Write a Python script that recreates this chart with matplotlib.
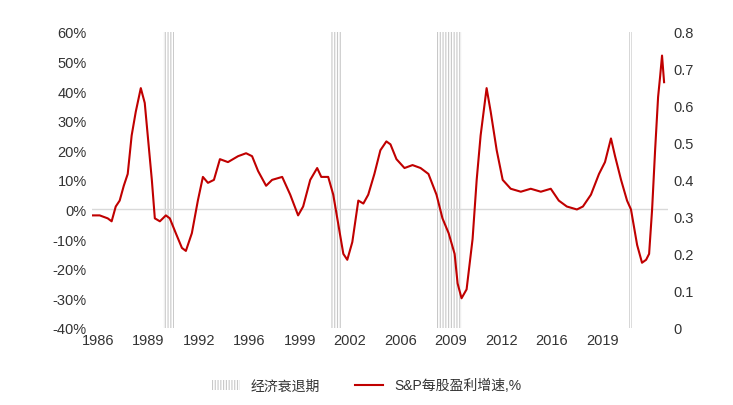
import matplotlib
matplotlib.use("Agg")
import matplotlib.pyplot as plt
from matplotlib.patches import Patch
from matplotlib.lines import Line2D

plt.rcParams['font.family'] = ['Liberation Sans', 'Noto Sans CJK SC', 'DejaVu Sans']
plt.rcParams['hatch.linewidth'] = 0.8

# years since Jan 1986
t = [0, 0.51, 1.02, 1.27, 1.53, 1.78, 2.04, 2.29, 2.54, 2.80, 3.12, 3.37, 3.56, 3.82, 4.01,
     4.33, 4.71, 4.96, 5.34, 5.73, 5.98, 6.36, 6.74, 7.06, 7.38, 7.76, 8.14, 8.65, 9.29, 9.80,
     10.18, 10.56, 11.07, 11.45, 12.09, 12.60, 13.10, 13.42, 13.87, 14.31, 14.57, 15.01, 15.33,
     15.65, 15.97, 16.22, 16.54, 16.92, 17.24, 17.55, 17.94, 18.32, 18.70, 18.96, 19.34, 19.85,
     20.36, 20.87, 21.37, 21.88, 22.26, 22.65, 23.03, 23.22, 23.47, 23.79, 24.17, 24.43, 24.68,
     25.06, 25.32, 25.70, 26.08, 26.59, 27.23, 27.86, 28.50, 29.13, 29.64, 30.15, 30.79, 31.17,
     31.68, 32.19, 32.57, 32.95, 33.21, 33.59, 33.97, 34.22, 34.61, 34.92, 35.18, 35.37, 35.56,
     35.75, 35.94, 36.07, 36.19, 36.32]
eps_growth = [-2, -2, -3, -4, 1, 3, 8, 12, 25, 33, 41, 36, 25, 10, -3,
              -4, -2, -3, -8, -13, -14, -8, 3, 11, 9, 10, 17, 16, 18, 19,
              18, 13, 8, 10, 11, 5, -2, 1, 10, 14, 11, 11, 5,
              -5, -15, -17, -11, 3, 2, 5, 12, 20, 23, 22, 17, 14,
              15, 14, 12, 5, -3, -8, -15, -25, -30, -27, -10, 10, 25,
              41, 33, 20, 10, 7, 6, 7, 6, 7, 3, 1, 0, 1,
              5, 12, 16, 24, 18, 10, 3, 0, -12, -18, -17, -15, 0,
              20, 38, 45, 52, 43]
recessions = [(4.5, 5.2), (15.2, 15.9), (21.9, 23.5), (34.1, 34.3)]
tick_labels = ["1986", "1989", "1992", "1996", "1999", "2002", "2006", "2009", "2012", "2016", "2019"]

fig = plt.figure(figsize=(7.33, 4.06), dpi=100)
ax = fig.add_axes([0.125, 0.19, 0.787, 0.729])
ax2 = ax.twinx()

for a, b in recessions:
    ax2.bar((a + b) / 2, 0.8, width=b - a, bottom=0, color="white",
            edgecolor="#c8c8c8", hatch="||||||", linewidth=0)
ax2.set_ylim(0, 0.8)
ax2.set_yticks([i / 10 for i in range(9)])
ax2.set_yticklabels(["0"] + [f"{i/10:.1f}" for i in range(1, 9)])

ax.set_zorder(ax2.get_zorder() + 1)
ax.patch.set_visible(False)
ax.axhline(0, color="#d9d9d9", lw=1)
ax.plot(t, eps_growth, color="#c00000", lw=1.5)
ax.set_ylim(-40, 60)
ax.set_yticks(range(-40, 61, 10))
ax.set_yticklabels([f"{v}%" for v in range(-40, 61, 10)])
ax.set_xlim(0, 36.6)
ax.set_xticks([0.4 + 3.2 * i for i in range(len(tick_labels))])
ax.set_xticklabels(tick_labels)

for a_ in (ax, ax2):
    for s in a_.spines.values():
        s.set_visible(False)
    a_.tick_params(length=0, labelsize=10.5, colors="#333333")

handles = [Patch(facecolor="white", edgecolor="#c8c8c8", hatch="||||||", linewidth=0),
           Line2D([0], [0], color="#c00000", lw=1.5)]
fig.legend(handles, ["经济衰退期", "S&P每股盈利增速,%"], loc="lower center",
           bbox_to_anchor=(0.5, 0.0), ncol=2, frameon=False, fontsize=10,
           labelcolor="#333333", columnspacing=2.5)

fig.savefig("out.png", dpi=100)
